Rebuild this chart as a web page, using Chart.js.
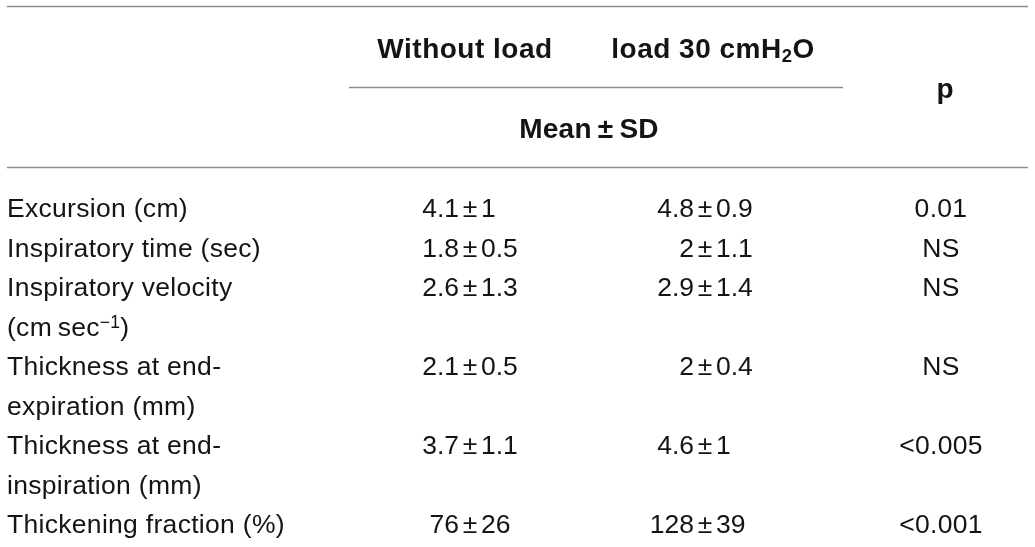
<!DOCTYPE html>
<html>
<head>
<meta charset="utf-8">
<script src="https://cdn.jsdelivr.net/npm/chart.js@4.4.1/dist/chart.umd.min.js"></script>
<style>
  html, body { margin: 0; padding: 0; background: #fff; }
  #wrap { width: 1035px; height: 547px; }
</style>
</head>
<body>
<div id="wrap"><canvas id="myChart"></canvas></div>
<script>
// table content
const rowLabels = [
  ["Excursion (cm)"],
  ["Inspiratory time (sec)"],
  ["Inspiratory velocity", "(cm\u2009sec^{\u22121})"],
  ["Thickness at end-", "expiration (mm)"],
  ["Thickness at end-", "inspiration (mm)"],
  ["Thickening fraction (%)"],
];
const withoutMean = [4.1, 1.8, 2.6, 2.1, 3.7, 76];
const withoutSD = [1, 0.5, 1.3, 0.5, 1.1, 26];
const loadMean = [4.8, 2, 2.9, 2, 4.6, 128];
const loadSD = [0.9, 1.1, 1.4, 0.4, 1, 39];
const pValues = ["0.01", "NS", "NS", "NS", "<0.005", "<0.001"];
const groupHeaders = ["Without load", "load 30 cmH_{2}O"];
const statHeader = "Mean\u2009\u00b1\u2009SD";
const pHeader = "p";

// layout (y in text-line units, x in px)
const rowLine = [0, 1, 2, 4, 6, 8];
const headerLine = -4.0, pLine = -2.98, statLine = -1.98;
const textNudge = 0.045;
const rules = [
  { y: -5.114, x0: 7, x1: 1028 },
  { y: -3.063, x0: 349, x1: 843 },
  { y: -1.038, x0: 7, x1: 1028 },
];
const colLabel = 7, colGroup = [465, 713], colStat = 589, colP = 941, colPm = [470, 705];

const FONT = '"Liberation Sans", Arial, sans-serif';
const INK = "#141414";
const BODY = 26.5, HEAD = 28;

function parseRich(str) {
  return str.split(/(\^\{[^}]*\}|_\{[^}]*\})/).filter(s => s).map(s => {
    if (s.startsWith("^{")) return { t: s.slice(2, -1), sup: true };
    if (s.startsWith("_{")) return { t: s.slice(2, -1), sub: true };
    return { t: s };
  });
}

function drawRich(ctx, str, x, yp, align, size, weight, spacing) {
  const parts = parseRich(str).map(s => {
    const fs = s.sub || s.sup ? size * 0.66 : size;
    ctx.font = `${weight} ${fs}px ${FONT}`;
    ctx.letterSpacing = spacing + "px";
    return { s, fs, w: ctx.measureText(s.t).width };
  });
  const total = parts.reduce((a, p) => a + p.w, 0);
  let cx = align === "center" ? x - total / 2 : align === "right" ? x - total : x;
  ctx.textAlign = "left";
  parts.forEach(p => {
    ctx.font = `${weight} ${p.fs}px ${FONT}`;
    ctx.letterSpacing = spacing + "px";
    const dy = p.s.sub ? size * 0.25 : p.s.sup ? -size * 0.18 : 0;
    ctx.fillText(p.s.t, cx, yp + dy);
    cx += p.w;
  });
}

function drawPm(ctx, mean, sd, xp, yp) {
  ctx.font = `400 ${BODY}px ${FONT}`;
  ctx.letterSpacing = "0px";
  ctx.textAlign = "center";
  ctx.fillText("\u00b1", xp, yp);
  ctx.textAlign = "right";
  ctx.fillText(String(mean), xp - 11, yp);
  ctx.textAlign = "left";
  ctx.fillText(String(sd), xp + 11, yp);
}

const tablePlugin = {
  id: "table",
  afterDraw(chart) {
    const { ctx, scales: { x, y } } = chart;
    ctx.save();
    ctx.strokeStyle = "#8c8c8c";
    ctx.lineWidth = 1.5;
    rules.forEach(r => {
      const yp = Math.round(y.getPixelForValue(r.y)) + 0.5;
      ctx.beginPath();
      ctx.moveTo(x.getPixelForValue(r.x0), yp);
      ctx.lineTo(x.getPixelForValue(r.x1), yp);
      ctx.stroke();
    });

    ctx.fillStyle = INK;
    ctx.textBaseline = "middle";
    // headers
    groupHeaders.forEach((h, i) => {
      drawRich(ctx, h, x.getPixelForValue(colGroup[i]), y.getPixelForValue(headerLine), "center", HEAD, 700, 0.5);
    });
    drawRich(ctx, statHeader, x.getPixelForValue(colStat), y.getPixelForValue(statLine), "center", HEAD, 700, 0.3);
    drawRich(ctx, pHeader, x.getPixelForValue(colP + 4), y.getPixelForValue(pLine), "center", HEAD, 700, 0);

    // body
    rowLabels.forEach((lines, i) => {
      lines.forEach((ln, k) => {
        drawRich(ctx, ln, x.getPixelForValue(colLabel), y.getPixelForValue(rowLine[i] + k + textNudge), "left", BODY, 400, 0.3);
      });
      const yp = y.getPixelForValue(rowLine[i] + textNudge);
      drawPm(ctx, withoutMean[i], withoutSD[i], x.getPixelForValue(colPm[0]), yp);
      drawPm(ctx, loadMean[i], loadSD[i], x.getPixelForValue(colPm[1]), yp);
      drawRich(ctx, pValues[i], x.getPixelForValue(colP), yp, "center", BODY, 400, 0.3);
    });
    ctx.restore();
  },
};

const ctx = document.querySelector("#myChart").getContext("2d");
const myChart = new Chart(ctx, {
  type: "scatter",
  data: { datasets: [] },
  options: {
    responsive: true,
    maintainAspectRatio: false,
    animation: false,
    layout: { padding: 0 },
    plugins: { legend: { display: false }, tooltip: { enabled: false } },
    scales: {
      x: { type: "linear", min: 0, max: 1035, display: false },
      y: { type: "linear", min: -5.266, max: 8.582, reverse: true, display: false },
    },
  },
  plugins: [tablePlugin],
});
</script>
</body>
</html>
